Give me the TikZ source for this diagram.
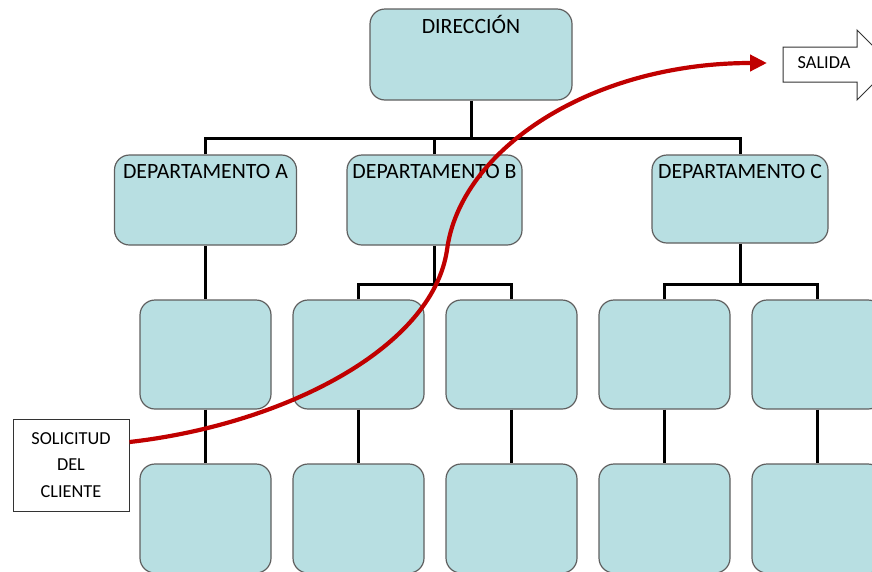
\documentclass[tikz,border=0pt]{standalone}
\usepackage{fontspec}
\setmainfont{Carlito}
\usetikzlibrary{arrows.meta,positioning,calc}
\definecolor{boxfill}{RGB}{184,223,226}
\definecolor{boxline}{RGB}{95,95,95}
\definecolor{flowred}{RGB}{192,0,0}
\tikzset{box/.style={
            draw=boxline,
            fill=boxfill,
            line width=1.2pt,
            rounded corners=15pt,
            inner sep=0pt
        },
        lab/.style={
            font=\fontsize{21.8}{25}\selectfont,
            inner sep=0pt,
            text height=14pt,
            text depth=0pt
        },
        link/.style={
            line width=3pt,
            black
        },
        plainbox/.style={
            draw=black!80,
            fill=white,
            line width=1pt,
            inner sep=0pt
        },
        small/.style={
            font=\fontsize{18.3}{26.7}\selectfont
        },
        flow/.style={
            line width=4.2pt,
            flowred,
            -{Triangle[length=17pt,width=16pt]}
        }
    }

\begin{document}
\begin{tikzpicture}[x=1pt,y=-1pt]
        \useasboundingbox (0,0) rectangle (872,571);
        \clip (0,0) rectangle (872,571);
        % top and departments
        \node[box,minimum width=202pt,minimum height=91pt,
              label={[lab,anchor=north,yshift=-11pt]north:DIRECCIÓN}] (dir) at (471,54.5) {};
        \node[box,minimum width=182pt,minimum height=90pt,
              label={[lab,anchor=north,yshift=-10pt]north:DEPARTAMENTO A}] (depA) at (205.5,200) {};
        \node[box,minimum width=175pt,minimum height=90pt,
              label={[lab,anchor=north,yshift=-10pt]north:DEPARTAMENTO B}] (depB) at (434.5,200) {};
        \node[box,minimum width=176pt,minimum height=88pt,
              label={[lab,anchor=north,yshift=-10pt]north:DEPARTAMENTO C}] (depC) at (740,199) {};
        % lower rows
        \foreach \x/\n in {205.5/a,358.5/b1,511.5/b2,664.5/c1,817.5/c2} {
            \node[box,minimum width=131pt,minimum height=109pt] (r3\n) at (\x,354.5) {};
            \node[box,minimum width=131pt,minimum height=109pt] (r4\n) at (\x,518.5) {};
            \draw[link] (r3\n.south) -- (r4\n.north);
        }
        % connectors
        \draw[link] (dir.south) -- ++(0,38) coordinate (dbus);
        \draw[link] (depA.north) -- (depA.north |- dbus) -- (depC.north |- dbus) -- (depC.north);
        \draw[link] (depB.north) -- (depB.north |- dbus);
        \draw[link] (depA.south) -- (r3a.north);
        \draw[link] (depB.south) -- ++(0,39) coordinate (bbus);
        \draw[link] (r3b1.north) -- (r3b1.north |- bbus) -- (r3b2.north |- bbus) -- (r3b2.north);
        \draw[link] (depC.south) -- ++(0,41) coordinate (cbus);
        \draw[link] (r3c1.north) -- (r3c1.north |- cbus) -- (r3c2.north |- cbus) -- (r3c2.north);
        % client and exit
        \node[plainbox,small,align=center,minimum width=116pt,minimum height=92pt] (sol) at (71,465)
            {SOLICITUD\\DEL\\CLIENTE};
        \draw[plainbox] (783,47) -- (857,47) -- (857,30) -- (892,65) -- (857,100)
            -- (857,82) -- (783,82) -- cycle;
        \node[small,inner sep=0pt] (salida) at (824,63) {SALIDA};
        \coordinate (salin) at (767,63);
        \draw[flow] ([yshift=23pt]sol.east) .. controls (280,425) and (432,350) .. (447,250)
            .. controls (460,150) and (590,63) .. (salin);
    \end{tikzpicture}
\end{document}
